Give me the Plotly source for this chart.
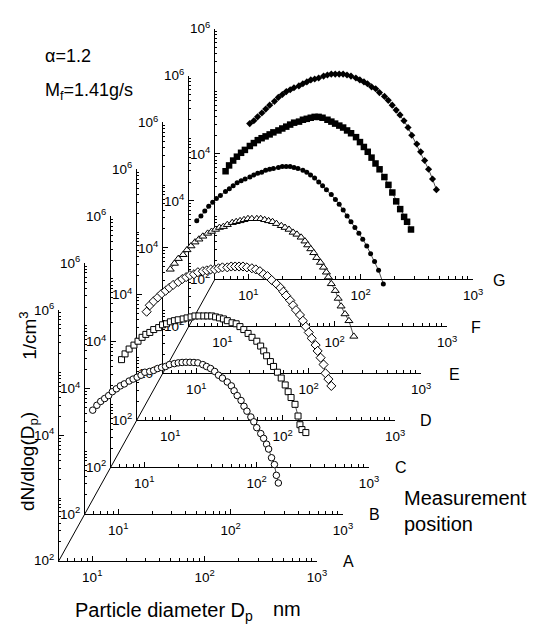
import math
import plotly.graph_objects as go

# ---------------- data ----------------
panel_names = ["A", "B", "C", "D", "E", "F", "G"]

dp_A = [10.1, 11.0, 11.9, 12.9, 14.0, 15.1, 16.4, 17.8, 19.3, 21.3, 23.1, 25.1, 27.2, 29.4, 32.5, 35.2,
        38.2, 41.4, 44.9, 48.6, 53.8, 58.3, 63.1, 68.4, 74.1, 80.4, 87.1, 96.3, 104, 113, 123, 133, 144,
        159, 173, 183, 195, 211, 224, 238, 258, 274, 291, 316, 335, 356, 371, 394, 418, 435, 453]
n_A = [2.53e4, 3.03e4, 3.49e4, 3.88e4, 4.32e4, 4.99e4, 5.55e4, 6.18e4, 6.64e4, 7.38e4, 7.93e4, 8.51e4,
       9.14e4, 1.02e5, 1.05e5, 1.09e5, 1.17e5, 1.22e5, 1.26e5, 1.35e5, 1.40e5, 1.44e5, 1.46e5, 1.47e5,
       1.47e5, 1.46e5, 1.44e5, 1.35e5, 1.26e5, 1.17e5, 1.05e5, 9.14e4, 8.22e4, 7.13e4, 6.18e4, 5.16e4,
       4.32e4, 3.61e4, 2.92e4, 2.44e4, 1.97e4, 1.65e4, 1.33e4, 1.07e4, 8.98e3, 7.25e3, 6.06e3, 4.40e3,
       3.43e3, 2.31e3, 1.74e3]

dp_B = [10.7, 11.5, 12.5, 13.8, 15.0, 16.3, 17.6, 19.1, 20.7, 22.9, 24.8, 26.9, 29.1, 31.6, 34.2, 37.8,
        41.0, 44.5, 48.2, 52.2, 57.7, 62.5, 67.8, 73.5, 79.6, 86.3, 93.5, 103, 112, 121, 131, 143, 155,
        171, 185, 197, 209, 226, 241, 261, 282, 306, 325, 345, 374, 398, 414, 431, 467]
n_B = [2.89e4, 3.57e4, 4.27e4, 4.93e4, 5.69e4, 6.56e4, 7.31e4, 7.85e4, 8.73e4, 9.38e4, 1.04e5, 1.08e5,
       1.16e5, 1.21e5, 1.25e5, 1.29e5, 1.34e5, 1.39e5, 1.44e5, 1.44e5, 1.44e5, 1.44e5, 1.44e5, 1.39e5,
       1.34e5, 1.29e5, 1.21e5, 1.12e5, 1.08e5, 9.73e4, 8.73e4, 7.57e4, 6.56e4, 5.69e4, 4.76e4, 3.98e4,
       3.33e4, 2.69e4, 2.25e4, 1.82e4, 1.47e4, 1.14e4, 8.89e3, 7.18e3, 5.59e3, 3.64e3, 2.64e3, 2.21e3,
       1.98e3]

dp_C = [10.5, 11.2, 12.1, 13.2, 14.3, 15.5, 16.7, 18.1, 20.1, 21.8, 23.6, 25.5, 27.7, 30.0, 33.2, 36.0,
        39.0, 42.3, 45.8, 49.6, 54.8, 59.4, 64.4, 69.8, 75.6, 82.0, 90.7, 98.4, 107, 115, 125, 136, 150,
        163, 173, 183, 199, 211, 224, 243, 258, 274, 291, 309, 335, 349, 371, 394, 410, 435, 462]
n_C = [3.0e4, 3.80e4, 4.39e4, 5.06e4, 5.84e4, 6.49e4, 7.22e4, 8.04e4, 8.95e4, 9.96e4, 1.07e5, 1.15e5,
       1.19e5, 1.28e5, 1.33e5, 1.37e5, 1.42e5, 1.42e5, 1.48e5, 1.53e5, 1.53e5, 1.58e5, 1.58e5, 1.58e5,
       1.58e5, 1.53e5, 1.48e5, 1.42e5, 1.33e5, 1.19e5, 1.11e5, 9.62e4, 8.34e4, 7.22e4, 6.26e4, 5.43e4,
       4.54e4, 3.80e4, 3.18e4, 2.66e4, 2.15e4, 1.73e4, 1.40e4, 1.13e4, 8.80e3, 7.10e3, 5.53e3, 4.31e3,
       3.12e3, 2.52e3, 1.96e3]

dp_D = [10.0, 10.9, 11.8, 13.0, 14.1, 15.3, 16.6, 18.0, 19.5, 21.5, 23.3, 25.3, 27.4, 29.7, 32.2, 35.6,
        38.6, 41.8, 45.3, 49.1, 53.2, 58.9, 63.8, 69.2, 75.0, 81.3, 88.1, 97.3, 105, 114, 124, 134, 146,
        158, 167, 178, 189, 201, 217, 231, 245, 255, 271, 294, 312, 331, 359, 389, 430]
n_D = [2.54e4, 3.15e4, 3.76e4, 4.34e4, 5.19e4, 5.98e4, 6.90e4, 7.68e4, 8.55e4, 9.52e4, 1.02e5, 1.10e5,
       1.18e5, 1.22e5, 1.31e5, 1.41e5, 1.46e5, 1.51e5, 1.57e5, 1.63e5, 1.63e5, 1.63e5, 1.63e5, 1.57e5,
       1.51e5, 1.46e5, 1.36e5, 1.26e5, 1.18e5, 1.10e5, 9.86e4, 9.18e4, 8.24e4, 7.15e4, 6.20e4, 5.37e4,
       4.66e4, 3.90e4, 3.26e4, 2.73e4, 2.28e4, 1.91e4, 1.49e4, 1.16e4, 8.71e3, 6.55e3, 4.92e3, 3.83e3,
       2.16e3]

dp_E = [10.1, 11.0, 11.9, 12.9, 14.0, 15.1, 16.4, 18.2, 19.7, 21.3, 23.1, 25.1, 27.2, 30.0, 32.5, 35.2,
        38.2, 41.4, 44.9, 48.6, 53.8, 58.3, 63.1, 68.4, 74.1, 80.4, 88.9, 96.3, 104, 113, 123, 133, 144,
        159, 173, 187, 203, 220, 238, 258, 280, 303, 329, 356, 386, 419, 462]
n_E = [2.70e4, 3.23e4, 3.86e4, 4.61e4, 5.32e4, 6.14e4, 6.83e4, 7.88e4, 8.77e4, 9.76e4, 1.09e5, 1.17e5,
       1.25e5, 1.35e5, 1.45e5, 1.55e5, 1.61e5, 1.73e5, 1.79e5, 1.85e5, 1.92e5, 1.99e5, 1.99e5, 1.99e5,
       1.92e5, 1.85e5, 1.73e5, 1.61e5, 1.45e5, 1.30e5, 1.12e5, 9.76e4, 8.45e4, 7.07e4, 5.92e4, 4.95e4,
       4.00e4, 3.23e4, 2.61e4, 2.10e4, 1.70e4, 1.37e4, 1.07e4, 8.02e3, 6.03e3, 4.37e3, 2.65e3]

dp_F = [10.7, 11.5, 12.5, 13.5, 14.7, 15.9, 17.6, 19.1, 20.7, 22.4, 24.3, 26.4, 28.5, 31.6, 34.2, 37.1,
        40.2, 43.6, 48.2, 52.2, 56.5, 61.3, 66.4, 72.0, 78.0, 86.3, 93.5, 101, 110, 119, 129, 140, 155,
        168, 182, 197, 213, 231, 251, 277, 301, 326, 353, 383, 415, 441, 478]
n_F = [2.97e4, 3.68e4, 4.40e4, 5.07e4, 5.85e4, 6.51e4, 7.51e4, 8.36e4, 9.31e4, 1.00e5, 1.07e5, 1.15e5,
       1.24e5, 1.33e5, 1.43e5, 1.53e5, 1.65e5, 1.77e5, 1.84e5, 1.97e5, 2.04e5, 2.12e5, 2.19e5, 2.19e5,
       2.12e5, 1.97e5, 1.84e5, 1.71e5, 1.59e5, 1.48e5, 1.33e5, 1.20e5, 1.04e5, 8.67e4, 7.25e4, 6.07e4,
       4.90e4, 3.95e4, 3.19e4, 2.40e4, 1.80e4, 1.36e4, 9.82e3, 7.38e3, 5.55e3, 4.64e3, 3.49e3]

dp_G = [10.3, 11.2, 12.1, 13.2, 14.3, 15.5, 17.1, 18.5, 20.1, 21.8, 23.6, 25.5, 28.2, 30.6, 33.2, 36.0,
        39.0, 42.3, 46.8, 50.6, 54.8, 59.4, 64.4, 69.8, 75.6, 82.0, 90.7, 98.4, 107, 115, 125, 136, 147,
        163, 176, 191, 207, 224, 243, 264, 285, 316, 342, 371, 402, 436, 472]
n_G = [3.05e4, 3.39e4, 3.91e4, 4.51e4, 5.20e4, 6.00e4, 6.92e4, 7.98e4, 8.89e4, 9.89e4, 1.06e5, 1.14e5,
       1.22e5, 1.32e5, 1.41e5, 1.52e5, 1.57e5, 1.63e5, 1.75e5, 1.82e5, 1.88e5, 1.88e5, 1.88e5, 1.88e5,
       1.82e5, 1.75e5, 1.63e5, 1.52e5, 1.41e5, 1.32e5, 1.18e5, 1.10e5, 9.55e4, 8.28e4, 7.18e4, 6.00e4,
       5.02e4, 4.20e4, 3.39e4, 2.64e4, 1.99e4, 1.44e4, 1.08e4, 7.85e3, 5.69e3, 3.98e3, 2.69e3]

x_tickvals = [10, 100, 1000]
x_ticktext = ["10<sup>1</sup>", "10<sup>2</sup>", "10<sup>3</sup>"]
y_tickvals = [1e2, 1e4, 1e6]
y_ticktext = ["10<sup>2</sup>", "10<sup>4</sup>", "10<sup>6</sup>"]
x_minor = [6, 7, 8, 9, 20, 30, 40, 50, 60, 70, 80, 90, 200, 300, 400, 500, 600, 700, 800, 900]
y_minor = [m * 10 ** e for e in (2, 3, 4, 5) for m in (1, 2, 3, 4, 5, 6, 7, 8, 9) if not (m == 1 and e % 2 == 0)]
x_min_nm, x_max_nm = 5.05, 1000
y_min, y_max = 1e2, 1e6

series = [(dp_A, n_A), (dp_B, n_B), (dp_C, n_C), (dp_D, n_D), (dp_E, n_E), (dp_F, n_F), (dp_G, n_G)]

# ---------------- styles / geometry ----------------
W, H = 538, 627
X0, Y0 = 60.0, 567.0          # origin of front panel (px)
DX, DY = 26.5, 48.3           # shift per measurement position
PW, PH = 263.0, 258.0         # panel width / height (px)
FONT = "Liberation Sans, Arial, Helvetica, sans-serif"

marker_styles = [
    dict(symbol="circle", size=6.5, color="white", line=dict(color="black", width=1)),
    dict(symbol="square", size=6, color="white", line=dict(color="black", width=1)),
    dict(symbol="diamond", size=7, color="white", line=dict(color="black", width=1)),
    dict(symbol="triangle-up", size=7, color="white", line=dict(color="black", width=1)),
    dict(symbol="circle", size=5, color="black", line=dict(color="black", width=0)),
    dict(symbol="square", size=6.5, color="black", line=dict(color="black", width=0)),
    dict(symbol="diamond", size=5.5, color="black", line=dict(color="black", width=0)),
]
letter_dx = [32, 32, 33, 32, 34, 30, 26]


def px_x(p):
    return p / W


def px_y(p):
    return 1 - p / H


fig = go.Figure()
layout_axes = {}
# draw the back panel first (G) and the front panel (A) last
order = list(range(6, -1, -1))
for j, k in enumerate(order, start=1):
    sfx = "" if j == 1 else str(j)
    ox = X0 + DX * k
    oy = Y0 - DY * k
    dp, n = series[k]
    fig.add_trace(go.Scatter(
        x=dp, y=n, xaxis="x" + sfx, yaxis="y" + sfx,
        mode="lines+markers", marker=marker_styles[k],
        line=dict(color="black", width=0.7), cliponaxis=False,
        showlegend=False, hoverinfo="skip"))
    layout_axes["xaxis" + sfx] = dict(
        type="log", range=[math.log10(x_min_nm), math.log10(x_max_nm)],
        domain=[px_x(ox), px_x(ox + PW)], anchor="y" + sfx,
        showline=True, linecolor="black", linewidth=1, mirror=False,
        showgrid=False, zeroline=False, fixedrange=True,
        tickmode="array", tickvals=x_tickvals, ticktext=x_ticktext,
        ticks="inside", ticklen=5, tickwidth=1, tickcolor="black",
        ticklabelstandoff=4,
        tickfont=dict(family=FONT, size=13.5, color="black"),
        minor=dict(tickmode="array", tickvals=x_minor, ticks="inside", ticklen=3,
                   tickwidth=1, tickcolor="black", showgrid=False))
    layout_axes["yaxis" + sfx] = dict(
        type="log", range=[math.log10(y_min), math.log10(y_max)],
        domain=[px_y(oy), px_y(oy - PH)], anchor="x" + sfx,
        showline=True, linecolor="black", linewidth=1, mirror=False,
        showgrid=False, zeroline=False, fixedrange=True,
        tickmode="array", tickvals=y_tickvals, ticktext=y_ticktext,
        ticks="inside", ticklen=5, tickwidth=1, tickcolor="black",
        ticklabelstandoff=1,
        tickfont=dict(family=FONT, size=13.5, color="black"),
        minor=dict(tickmode="array", tickvals=y_minor, ticks="inside", ticklen=2.5,
                   tickwidth=1, tickcolor="black", showgrid=False))

fig.update_layout(**layout_axes)

annotations = []
for k, name in enumerate(panel_names):
    ox = X0 + DX * k
    oy = Y0 - DY * k
    annotations.append(dict(x=px_x(ox + PW + letter_dx[k]), y=px_y(oy + 1), xref="paper", yref="paper",
                            text=name, showarrow=False, xanchor="center", yanchor="middle",
                            font=dict(family=FONT, size=16, color="black")))

annotations += [
    dict(x=px_x(44), y=px_y(47), text="\u03b1=1.2", xanchor="left", yanchor="middle",
         font=dict(family=FONT, size=18)),
    dict(x=px_x(44), y=px_y(84), text="M<sub>f</sub>=1.41g/s", xanchor="left", yanchor="middle",
         font=dict(family=FONT, size=18)),
    dict(x=px_x(29), y=px_y(335), text="1/cm<sup>3</sup>", textangle=-90, xanchor="center",
         yanchor="middle", font=dict(family=FONT, size=19)),
    dict(x=px_x(29), y=px_y(465), text="dN/dlog(D<sub>p</sub>)", textangle=-90, xanchor="center",
         yanchor="middle", font=dict(family=FONT, size=19)),
    dict(x=px_x(74), y=px_y(619), text="Particle diameter D<sub>p</sub>", xanchor="left",
         yanchor="middle", font=dict(family=FONT, size=20)),
    dict(x=px_x(276), y=px_y(617), text="nm", xanchor="left", yanchor="middle",
         font=dict(family=FONT, size=20)),
    dict(x=px_x(410), y=px_y(516), text="Measurement<br>position", xanchor="left", yanchor="middle",
         align="left", font=dict(family=FONT, size=20)),
]
for a in annotations:
    a.setdefault("xref", "paper")
    a.setdefault("yref", "paper")
    a.setdefault("showarrow", False)
    a["font"].setdefault("color", "black")
    a["font"].setdefault("family", FONT)

# diagonal depth axis joining the panel origins
shapes = [dict(type="line", xref="paper", yref="paper",
               x0=px_x(X0), y0=px_y(Y0), x1=px_x(X0 + DX * 6), y1=px_y(Y0 - DY * 6),
               line=dict(color="black", width=1), layer="below")]

fig.update_layout(
    width=W, height=H, margin=dict(l=0, r=0, t=0, b=0),
    paper_bgcolor="white", plot_bgcolor="rgba(0,0,0,0)",
    annotations=annotations, shapes=shapes, showlegend=False,
    font=dict(family=FONT, color="black"),
)

fig.write_html("out.html", config={"displayModeBar": False},
               post_script="document.body.style.margin='0';")
